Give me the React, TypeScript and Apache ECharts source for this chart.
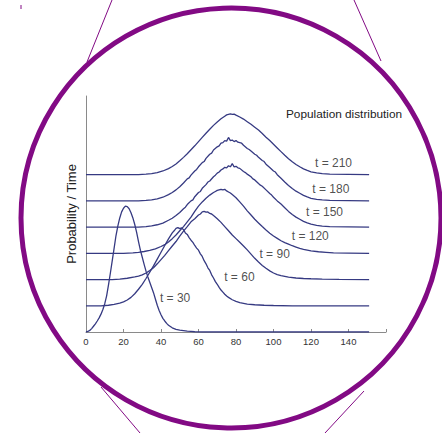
import React, { useEffect, useRef } from "react";
import * as echarts from "echarts";

// ---- data (offset above each curve's own baseline) ----
const T30: number[][] = [[0,0],[1,0.02],[2,0.06],[3,0.13],[4,0.22],[5,0.31],[6,0.42],[7,0.54],[8,0.68],[9,0.86],[10,1.08],[11,1.38],[12,1.8],[13,2.25],[14,2.72],[15,3.2],[16,3.68],[17,4.05],[18,4.35],[19,4.58],[20,4.72],[21,4.8],[22,4.78],[23,4.7],[24,4.55],[25,4.35],[26,4.1],[27,3.8],[28,3.45],[29,3.12],[30,2.85],[31,2.58],[32,2.32],[33,2.1],[34,1.9],[35,1.7],[36,1.5],[37,1.26],[38,1.02],[39,0.82],[40,0.66],[41,0.52],[42,0.42],[43,0.33],[44,0.26],[46,0.16],[48,0.1],[50,0.07],[52,0.05],[54,0.03],[56,0.02],[58,0.01],[62,0],[151,0]];
const T60: number[][] = [[0,0],[8,0],[12,0.02],[15,0.05],[18,0.1],[20,0.15],[22,0.22],[24,0.32],[26,0.46],[28,0.63],[30,0.82],[32,1.04],[34,1.28],[36,1.52],[38,1.78],[40,2.04],[42,2.3],[44,2.55],[46,2.78],[47,2.86],[48,2.95],[49,2.98],[50,2.94],[51,2.97],[52,2.9],[53,2.78],[54,2.72],[55,2.6],[56,2.5],[57,2.42],[58,2.3],[59,2.2],[60,2.12],[61,1.98],[62,1.88],[63,1.72],[64,1.6],[65,1.45],[66,1.35],[67,1.18],[68,1.06],[69,0.92],[70,0.82],[71,0.7],[72,0.6],[73,0.52],[74,0.44],[75,0.37],[76,0.32],[78,0.23],[80,0.17],[82,0.12],[84,0.09],[86,0.06],[90,0.04],[95,0.02],[100,0.01],[110,0],[151,0]];
const T90: number[][] = [[0,0],[14,0],[18,0.02],[22,0.05],[26,0.1],[28,0.13],[30,0.18],[32,0.25],[34,0.34],[36,0.45],[38,0.6],[40,0.76],[42,0.92],[44,1.1],[46,1.28],[48,1.45],[50,1.66],[52,1.85],[54,2.02],[56,2.2],[58,2.32],[60,2.46],[61,2.5],[62,2.58],[63,2.6],[64,2.57],[65,2.58],[66,2.52],[67,2.5],[68,2.44],[70,2.32],[72,2.18],[74,2.02],[76,1.86],[78,1.7],[80,1.56],[82,1.42],[84,1.28],[86,1.13],[88,0.97],[90,0.81],[92,0.67],[94,0.54],[96,0.43],[98,0.33],[100,0.25],[102,0.19],[104,0.15],[106,0.12],[108,0.09],[112,0.06],[116,0.04],[120,0.03],[126,0.02],[135,0.01],[151,0]];
const T120: number[][] = [[0,0],[20,0],[25,0.02],[28,0.04],[31,0.07],[34,0.11],[37,0.17],[40,0.26],[42,0.33],[44,0.43],[46,0.56],[48,0.7],[50,0.86],[52,1.02],[54,1.2],[56,1.38],[58,1.6],[60,1.8],[62,1.96],[64,2.1],[66,2.22],[68,2.32],[69,2.36],[70,2.4],[71,2.42],[72,2.44],[73,2.42],[74,2.44],[75,2.38],[76,2.34],[77,2.3],[78,2.24],[80,2.12],[82,1.96],[84,1.8],[86,1.62],[88,1.46],[90,1.3],[92,1.16],[94,1.02],[96,0.89],[98,0.77],[100,0.66],[102,0.57],[104,0.48],[106,0.41],[108,0.35],[110,0.29],[112,0.24],[114,0.19],[116,0.15],[118,0.12],[120,0.09],[124,0.06],[128,0.04],[132,0.02],[140,0.01],[151,0]];
const T150: number[][] = [[0,0],[28,0],[32,0.02],[35,0.05],[38,0.09],[41,0.15],[44,0.26],[46,0.34],[48,0.44],[50,0.56],[52,0.7],[53,0.76],[54,0.86],[56,1.0],[57,1.04],[58,1.16],[60,1.32],[61,1.36],[62,1.48],[64,1.62],[65,1.72],[66,1.76],[68,1.92],[69,1.98],[70,2.06],[71,2.1],[72,2.18],[73,2.22],[74,2.28],[75,2.26],[76,2.34],[77,2.3],[78,2.42],[79,2.3],[80,2.32],[81,2.26],[82,2.24],[84,2.12],[85,2.08],[86,2.02],[88,1.92],[89,1.84],[90,1.8],[92,1.66],[93,1.6],[94,1.56],[96,1.42],[98,1.28],[99,1.22],[100,1.14],[102,1.0],[104,0.88],[106,0.74],[108,0.6],[110,0.48],[112,0.38],[114,0.3],[116,0.22],[118,0.16],[120,0.11],[123,0.07],[126,0.04],[130,0.02],[140,0.01],[151,0]];
const T180: number[][] = [[0,0],[28,0],[32,0.02],[35,0.04],[38,0.08],[41,0.14],[44,0.24],[46,0.32],[48,0.42],[50,0.54],[52,0.68],[54,0.84],[55,0.88],[56,0.98],[58,1.14],[59,1.2],[60,1.3],[62,1.46],[63,1.5],[64,1.62],[66,1.78],[67,1.82],[68,1.94],[70,2.06],[71,2.1],[72,2.2],[73,2.22],[74,2.3],[75,2.28],[76,2.42],[77,2.3],[78,2.32],[79,2.26],[80,2.3],[81,2.24],[82,2.22],[83,2.2],[84,2.12],[86,2.0],[87,1.96],[88,1.9],[90,1.78],[91,1.74],[92,1.66],[94,1.54],[95,1.5],[96,1.4],[98,1.27],[100,1.14],[101,1.1],[102,1.0],[104,0.86],[106,0.72],[108,0.59],[110,0.47],[112,0.37],[114,0.29],[116,0.21],[118,0.15],[120,0.1],[123,0.06],[126,0.04],[130,0.02],[140,0.01],[151,0]];
const T210: number[][] = [[0,0],[28,0],[32,0.02],[35,0.04],[38,0.08],[41,0.14],[44,0.23],[46,0.31],[48,0.41],[50,0.53],[52,0.66],[54,0.8],[56,0.95],[58,1.1],[60,1.26],[62,1.42],[64,1.58],[66,1.73],[68,1.88],[70,2.01],[72,2.13],[74,2.23],[75,2.28],[76,2.3],[77,2.32],[78,2.3],[79,2.31],[80,2.27],[82,2.2],[84,2.12],[86,2.02],[88,1.92],[90,1.81],[92,1.7],[94,1.57],[96,1.43],[98,1.3],[100,1.16],[102,1.02],[104,0.88],[106,0.74],[108,0.61],[110,0.49],[112,0.39],[114,0.3],[116,0.22],[118,0.16],[120,0.11],[123,0.07],[126,0.04],[130,0.02],[140,0.01],[151,0]];

const CURVES = [T30, T60, T90, T120, T150, T180, T210];
const BASELINES = [0, 1, 2, 3, 4, 5, 6];
const CURVE_LABELS = ["t = 30", "t = 60", "t = 90", "t = 120", "t = 150", "t = 180", "t = 210"];
const LABEL_X = [47.5, 81.8, 100.6, 119.6, 127.2, 130.6, 132];
const LABEL_Y = [1.3, 2.09, 2.99, 3.68, 4.58, 5.44, 6.44];

const X_MIN = 0;
const X_MAX = 160;
const X_STEP = 20;
const Y_MIN = 0;
const Y_MAX = 9;

const TITLE = "Population distribution";
const Y_NAME = "Probability / Time";

const FONT = "'Liberation Sans', Arial, sans-serif";
const LINE_COLOR = "#363a82";
const PURPLE = "#820a84";

export default function App() {
  const ref = useRef<HTMLDivElement>(null);
  useEffect(() => {
    if (!ref.current) return;
    const chart = echarts.init(ref.current, null, { renderer: "svg" });
    const lineSeries = CURVES.map((c, i) => ({
      type: "line",
      data: c.map(([x, y]) => [x, y + BASELINES[i]]),
      showSymbol: false,
      symbol: "none",
      smooth: false,
      lineStyle: { color: LINE_COLOR, width: 1.3 },
      silent: true,
      z: 3,
    }));
    chart.setOption({
      animation: false,
      backgroundColor: "#ffffff",
      textStyle: { fontFamily: FONT },
      grid: { left: 86, right: 56, top: 96, bottom: 101, containLabel: false },
      xAxis: {
        type: "value",
        min: X_MIN,
        max: X_MAX,
        interval: X_STEP,
        axisLine: { show: true, lineStyle: { color: "#8a8a8a", width: 1 } },
        axisTick: { show: true, inside: true, length: 3, lineStyle: { color: "#8a8a8a" } },
        axisLabel: {
          fontSize: 9.5,
          color: "#333",
          margin: 4,
          fontFamily: FONT,
          formatter: (v: number) => (v === X_MAX ? "" : String(v)),
        },
        splitLine: { show: false },
      },
      yAxis: {
        type: "value",
        min: Y_MIN,
        max: Y_MAX,
        name: Y_NAME,
        nameLocation: "middle",
        nameRotate: 90,
        nameGap: 8,
        nameTextStyle: { fontSize: 13, color: "#222", fontFamily: FONT },
        axisLine: { show: true, onZero: false, lineStyle: { color: "#8a8a8a", width: 1 } },
        axisTick: { show: false },
        axisLabel: { show: false },
        splitLine: { show: false },
      },
      series: [
        ...lineSeries,
        {
          type: "scatter",
          symbolSize: 0,
          silent: true,
          data: CURVE_LABELS.map((n, i) => ({ name: n, value: [LABEL_X[i], LABEL_Y[i]] })),
          label: {
            show: true,
            position: "inside",
            formatter: "{b}",
            fontSize: 12,
            color: "#222",
            fontFamily: FONT,
          },
          z: 4,
        },
      ],
      graphic: [
        {
          type: "text",
          left: 286,
          top: 108,
          style: { text: TITLE, fontSize: 11.8, fill: "#222", fontFamily: FONT },
          z: 10,
        },
        {
          type: "circle",
          shape: { cx: 231, cy: 218, r: 210 },
          style: { fill: "none", stroke: PURPLE, lineWidth: 5 },
          z: 20,
          silent: true,
        },
        { type: "line", shape: { x1: 112, y1: 0, x2: 87, y2: 62 }, style: { stroke: PURPLE, lineWidth: 1 }, z: 20 },
        { type: "line", shape: { x1: 354, y1: 0, x2: 381, y2: 61 }, style: { stroke: PURPLE, lineWidth: 1 }, z: 20 },
        { type: "line", shape: { x1: 101, y1: 387, x2: 140, y2: 433 }, style: { stroke: PURPLE, lineWidth: 1 }, z: 20 },
        { type: "line", shape: { x1: 364, y1: 391, x2: 325, y2: 433 }, style: { stroke: PURPLE, lineWidth: 1 }, z: 20 },
        { type: "line", shape: { x1: 21, y1: 5, x2: 21, y2: 9 }, style: { stroke: PURPLE, lineWidth: 1 }, z: 20 },
      ],
    });
    return () => chart.dispose();
  }, []);
  return (
    <div
      ref={ref}
      style={{ position: "fixed", left: 0, top: 0, width: 442, height: 433, background: "#fff" }}
    />
  );
}
